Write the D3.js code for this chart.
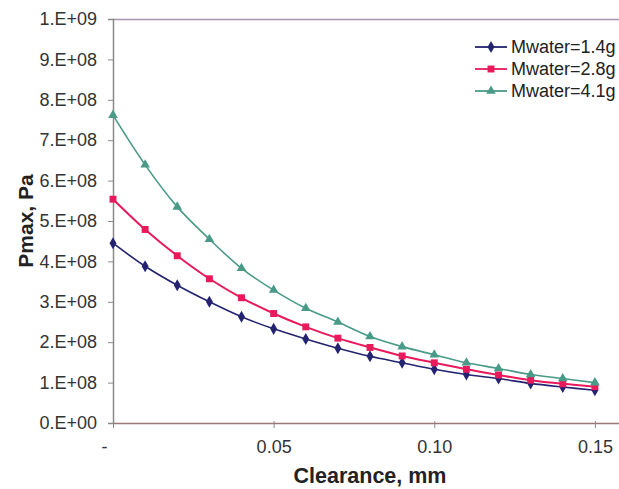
<!DOCTYPE html>
<html>
<head>
<meta charset="utf-8">
<script src="https://cdn.jsdelivr.net/npm/d3@7"></script>
<style>
  html, body { margin: 0; padding: 0; background: #fff; }
  svg { display: block; font-family: Arial, "Liberation Sans", sans-serif; }
</style>
</head>
<body>
<svg id="chart" width="619" height="489"></svg>
<script>
const clearance = [0, 0.01, 0.02, 0.03, 0.04, 0.05, 0.06, 0.07, 0.08, 0.09, 0.10, 0.11, 0.12, 0.13, 0.14, 0.15];
const mwater14 = [4.45e8, 3.88e8, 3.41e8, 3.00e8, 2.63e8, 2.33e8, 2.08e8, 1.85e8, 1.65e8, 1.49e8, 1.33e8, 1.20e8, 1.10e8, 0.98e8, 0.89e8, 0.81e8];
const mwater28 = [5.54e8, 4.79e8, 4.14e8, 3.57e8, 3.10e8, 2.71e8, 2.38e8, 2.10e8, 1.87e8, 1.66e8, 1.49e8, 1.33e8, 1.19e8, 1.06e8, 0.97e8, 0.90e8];
const mwater41 = [7.62e8, 6.39e8, 5.35e8, 4.55e8, 3.83e8, 3.29e8, 2.84e8, 2.50e8, 2.14e8, 1.89e8, 1.69e8, 1.49e8, 1.35e8, 1.20e8, 1.10e8, 1.00e8];
const seriesNames = ["Mwater=1.4g", "Mwater=2.8g", "Mwater=4.1g"];
const xTicks = [0, 0.05, 0.10, 0.15];
const xTickLabels = ["-", "0.05", "0.10", "0.15"];
const yTicks = [0, 1e8, 2e8, 3e8, 4e8, 5e8, 6e8, 7e8, 8e8, 9e8, 1e9];
const yTickLabels = ["0.E+00", "1.E+08", "2.E+08", "3.E+08", "4.E+08", "5.E+08", "6.E+08", "7.E+08", "8.E+08", "9.E+08", "1.E+09"];

const colors = ["#23236f", "#e81a5c", "#4a9a88"];
const symbols = [d3.symbolDiamond, d3.symbolSquare, d3.symbolTriangle];
const symSizes = [42, 48, 40];
const seriesValues = [mwater14, mwater28, mwater41];

const svg = d3.select("#chart");
const m = { left: 113, top: 19, right: 619, bottom: 423 };

const x = d3.scaleLinear().domain([0, 0.1575]).range([m.left, m.right]);
const y = d3.scaleLinear().domain([0, 1e9]).range([m.bottom, m.top]);

// top border
svg.append("line").attr("x1", m.left).attr("x2", m.right).attr("y1", m.top + 0.5).attr("y2", m.top + 0.5)
  .attr("stroke", "#a893b0").attr("stroke-width", 1.5);

// Y axis
const yAxis = svg.append("g").attr("transform", `translate(${m.left},0)`)
  .call(d3.axisLeft(y).tickValues(yTicks).tickFormat((d, i) => yTickLabels[i]).tickSize(5).tickPadding(11));
yAxis.select(".domain").attr("stroke", "#8a8a8a").attr("stroke-width", 1.5);
yAxis.selectAll(".tick line").attr("stroke", "#8a8a8a");
yAxis.selectAll("text").attr("font-size", 18).attr("fill", "#333").attr("font-family", "Arial, 'Liberation Sans', sans-serif");

// X axis
const xAxis = svg.append("g").attr("transform", `translate(0,${m.bottom})`)
  .call(d3.axisBottom(x).tickValues(xTicks).tickFormat((d, i) => xTickLabels[i]).tickSizeInner(5).tickSizeOuter(0).tickPadding(12));
xAxis.select(".domain").attr("stroke", "#9b7676").attr("stroke-width", 1.5);
xAxis.selectAll(".tick line").attr("stroke", "#8a8a8a").attr("y1", -2);
xAxis.selectAll("text").attr("font-size", 18).attr("fill", "#333").attr("font-family", "Arial, 'Liberation Sans', sans-serif");
xAxis.selectAll(".tick text").filter((d, i) => i === 0).attr("dx", -9);

// Axis titles
svg.append("text").attr("x", (m.left + m.right) / 2 + 4).attr("y", 483).attr("text-anchor", "middle")
  .attr("font-size", 21.5).attr("font-weight", "bold").attr("fill", "#222").text("Clearance, mm");
svg.append("text").attr("transform", `translate(33,${(m.top + m.bottom) / 2}) rotate(-90)`)
  .attr("text-anchor", "middle").attr("font-size", 21).attr("font-weight", "bold").attr("fill", "#222").text("Pmax, Pa");

// Series
const line = d3.line().x(d => x(d[0])).y(d => y(d[1])).curve(d3.curveCatmullRom.alpha(0.5));
seriesValues.forEach((vals, si) => {
  const pts = clearance.map((c, i) => [c, vals[i]]);
  svg.append("path").datum(pts).attr("d", line).attr("fill", "none")
    .attr("stroke", colors[si]).attr("stroke-width", si === 1 ? 2 : 1.6);
  svg.append("g").selectAll("path").data(pts).join("path")
    .attr("transform", d => `translate(${x(d[0])},${y(d[1])})`)
    .attr("d", d3.symbol().type(symbols[si]).size(symSizes[si]))
    .attr("fill", colors[si]);
});

// Legend
const legend = svg.append("g");
seriesNames.forEach((name, i) => {
  const ly = 47 + i * 22;
  legend.append("line").attr("x1", 475).attr("x2", 507).attr("y1", ly).attr("y2", ly)
    .attr("stroke", colors[i]).attr("stroke-width", 1.8);
  legend.append("path").attr("transform", `translate(491,${ly})`)
    .attr("d", d3.symbol().type(symbols[i]).size(symSizes[i])).attr("fill", colors[i]);
  legend.append("text").attr("x", 511).attr("y", ly).attr("dy", "0.36em")
    .attr("font-size", 18).attr("fill", "#222").text(name);
});
</script>
</body>
</html>
